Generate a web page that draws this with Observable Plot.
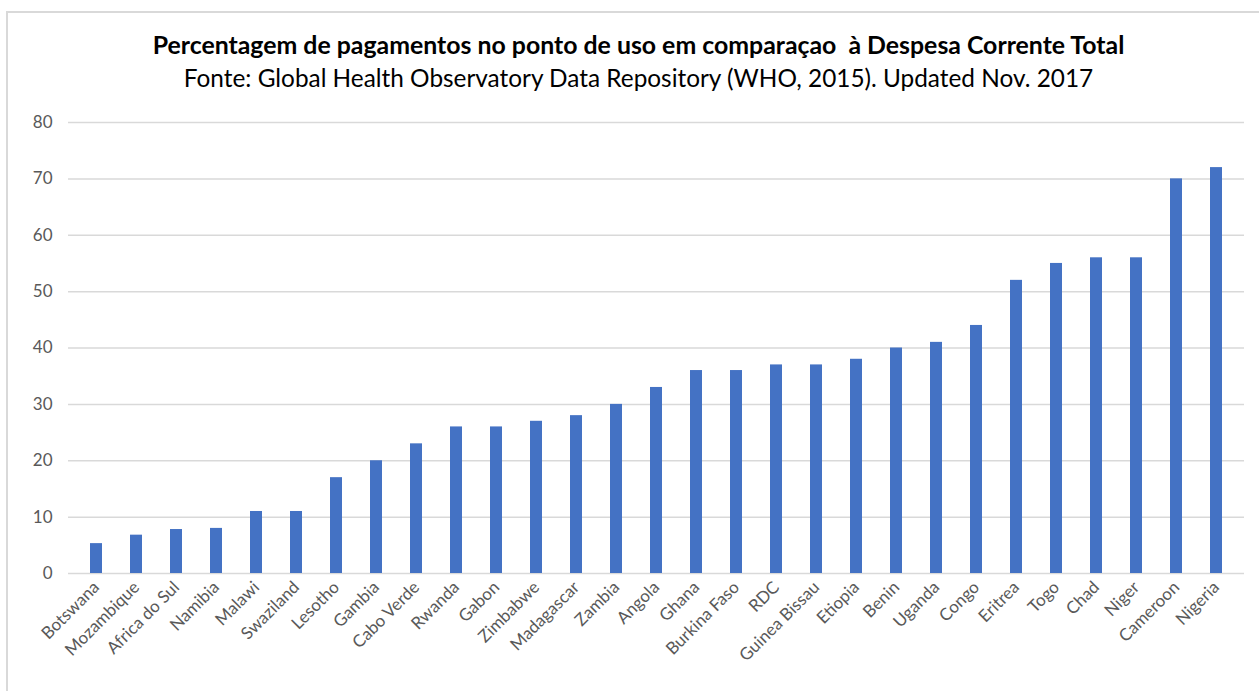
<!DOCTYPE html>
<html>
<head>
<meta charset="utf-8">
<script src="https://cdn.jsdelivr.net/npm/d3@7"></script>
<script src="https://cdn.jsdelivr.net/npm/@observablehq/plot@0.6"></script>
<style>
  html, body { margin: 0; padding: 0; background: #fff; }
  #wrap { position: relative; width: 1259px; height: 691px; overflow: hidden; font-family: Lato, "Noto Sans", sans-serif; }
  #frame { position: absolute; left: 6px; top: 11px; width: 1400px; height: 800px; border: 2px solid #d9d9d9; box-sizing: border-box; }
  #head { position: relative; height: 100px; }
  #title { position: absolute; left: 9px; width: 1259px; top: 32px; text-align: center; font-weight: 700; color: #000; white-space: nowrap; line-height: 1; }
  #subtitle { position: absolute; left: 9px; width: 1259px; top: 66px; text-align: center; font-weight: 400; color: #000; white-space: nowrap; line-height: 1; }
  #chart { position: relative; }
</style>
</head>
<body>
<div id="wrap">
  <div id="frame"></div>
  <div id="head">
    <div id="title"><span>Percentagem de pagamentos no ponto de uso em comparaçao&nbsp; à Despesa Corrente Total</span></div>
    <div id="subtitle"><span>Fonte: Global Health Observatory Data Repository (WHO, 2015). Updated Nov. 2017</span></div>
  </div>
  <div id="chart"></div>
</div>
<script>
const countries = ["Botswana", "Mozambique", "Africa do Sul", "Namibia", "Malawi", "Swaziland", "Lesotho", "Gambia", "Cabo Verde", "Rwanda", "Gabon", "Zimbabwe", "Madagascar", "Zambia", "Angola", "Ghana", "Burkina Faso", "RDC", "Guinea Bissau", "Etiopia", "Benin", "Uganda", "Congo", "Eritrea", "Togo", "Chad", "Niger", "Cameroon", "Nigeria"];
const values = [5.3, 6.8, 7.8, 8, 11, 11, 17, 20, 23, 26, 26, 27, 28, 30, 33, 36, 36, 37, 37, 38, 40, 41, 44, 52, 55, 56, 56, 70, 72];
const yTicks = [0, 10, 20, 30, 40, 50, 60, 70, 80];

const data = countries.map((c, i) => ({country: c, value: values[i]}));

function fit(id, target, base) {
  const el = document.querySelector("#" + id);
  const span = el.querySelector("span");
  el.style.fontSize = base + "px";
  const w = span.getBoundingClientRect().width;
  el.style.fontSize = (base * target / w) + "px";
}
fit("title", 972, 20);
fit("subtitle", 910, 20);

const chart = Plot.plot({
  width: 1259,
  height: 591,
  marginTop: 22,
  marginLeft: 68,
  marginRight: 15,
  marginBottom: 118,
  style: {fontFamily: "Lato, 'Noto Sans', sans-serif", fontSize: "17px", color: "#595959", background: "transparent", overflow: "visible"},
  x: {domain: countries, paddingInner: 0.7, paddingOuter: 0.37, label: null, tickRotate: -45, tickSize: 0, tickPadding: 11},
  y: {domain: [0, 80], ticks: yTicks, label: null, tickSize: 0, tickPadding: 16},
  marks: [
    Plot.gridY(yTicks, {stroke: "#d9d9d9", strokeOpacity: 1, strokeWidth: 1.5}),
    Plot.barY(data, {x: "country", y: "value", fill: "#4472C4"})
  ]
});
document.querySelector("#chart").appendChild(chart);
</script>
</body>
</html>
